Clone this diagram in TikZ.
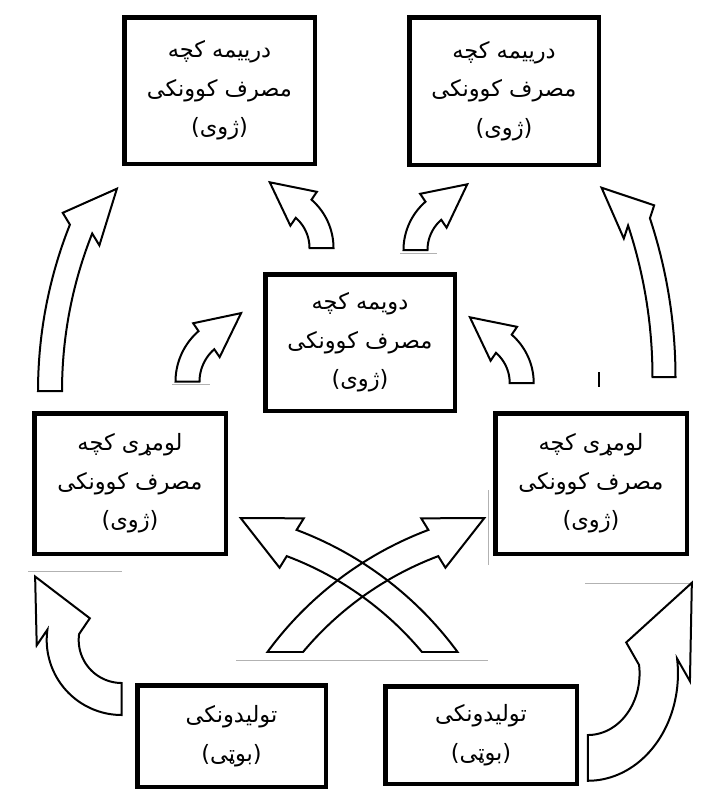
\documentclass[tikz,border=0pt]{standalone}
\usepackage{fontspec}
\newfontfamily\arabicfont[Script=Arabic]{DejaVu Sans}
\TeXXeTstate=1
\tikzset{
  box/.style={draw, line width=4.5pt, fill=white, inner sep=0pt, align=center,
    font=\arabicfont\fontsize{22.5}{38.5}\selectfont},
  arrowline/.style={draw=black, line width=2pt, line join=miter},
  artefact/.style={draw=black!30, line width=1pt}
}
% #1,#2 base centre; #3 start direction; #4 turn; #5 radius; #6 extra head turn;
% #7 shaft half width; #8 head half width; #9 head length
\newcommand\myarrow[9]{%
  \pgfmathsetmacro\arsg{ifthenelse(#4>0,1,-1)}%
  \pgfmathsetmacro\arcx{#1+#5*cos(#3+\arsg*90)}%
  \pgfmathsetmacro\arcy{#2+#5*sin(#3+\arsg*90)}%
  \pgfmathsetmacro\arpa{#3-\arsg*90}%
  \pgfmathsetmacro\arpb{\arpa+#4}%
  \pgfmathsetmacro\arpx{\arcx+#5*cos(\arpb)}%
  \pgfmathsetmacro\arpy{\arcy+#5*sin(\arpb)}%
  \pgfmathsetmacro\arga{#3+#4+#6}%
  \pgfmathsetmacro\arub{\arpb+#6}%
  \draw[arrowline] plot[domain=\arpa:\arpb,samples=40]
      ({\arcx+(#5+#7)*cos(\x)},{\arcy+(#5+#7)*sin(\x)})
    -- ({\arpx+#8*cos(\arub)},{\arpy+#8*sin(\arub)})
    -- ({\arpx+#9*cos(\arga)},{\arpy+#9*sin(\arga)})
    -- ({\arpx-#8*cos(\arub)},{\arpy-#8*sin(\arub)})
    -- plot[domain=\arpb:\arpa,samples=40]
      ({\arcx+(#5-#7)*cos(\x)},{\arcy+(#5-#7)*sin(\x)})
    -- cycle;
}
\begin{document}
\begin{tikzpicture}[x=1pt,y=-1pt]
\fill[white] (0,0) rectangle (720,806);
\useasboundingbox (0,0) rectangle (720,806);

% faint clip-art edges
\draw[artefact] (28,571) -- (122,571);
\draw[artefact] (585,583) -- (690,583);
\draw[artefact] (236,660) -- (488,660);
\draw[artefact] (488,490) -- (488,565);
\draw[artefact] (172,384) -- (210,384);
\draw[artefact] (400,253) -- (437,253);
\draw[black, line width=2pt] (599,372) -- (599,387);

% long side arrows
\myarrow{50}{391}{-90}{21.7}{438}{19.9}{12}{24.5}{54}
\myarrow{664}{377}{-90}{-18.3}{494}{-29.3}{11.5}{22.5}{50.7}
% small arrows
\myarrow{321.5}{248}{-90}{-49}{52}{-3}{12}{21.5}{43}
\myarrow{415.5}{250}{-90}{49}{52}{3}{12}{21.5}{43}
\myarrow{187.5}{381.7}{-90}{49}{55}{3}{12}{21.5}{44}
\myarrow{521.7}{383}{-90}{-49}{52}{-3}{12}{21.5}{43}
% bottom arrows
\myarrow{121.7}{699}{180}{98}{59}{-35}{16}{29.8}{62}
\begin{scope}[shift={(692,583)}, xscale=-1.2, yscale=1.43, shift={(-35,-576.7)}]
\myarrow{121.7}{699}{180}{98}{59}{-35}{16}{29.8}{62}
\end{scope}
% crossing arrows, bases cut level at y=652
\begin{scope}
\clip (0,0) rectangle (720,652);
\myarrow{264.6}{681.1}{-58}{37.4}{340}{-5.5}{14}{27.5}{56.8}
\end{scope}
\draw[arrowline] (267.4,652) -- (303,652);
\begin{scope}
\clip (0,0) rectangle (720,652);
\myarrow{460.4}{681.1}{-122}{-37.4}{340}{5.5}{14}{27.5}{56.8}
\end{scope}
\draw[arrowline] (422,652) -- (457.6,652);

% boxes
\node[box, minimum width=190.5pt, minimum height=146.5pt] (tl) at (219.5,90.5)
  {\beginR درییمه کچه\endR\\\beginR مصرف کوونکی\endR\\\beginR (ژوی)\endR};
\node[box, minimum width=189.5pt, minimum height=147.5pt] (tr) at (504,91)
  {\beginR درییمه کچه\endR\\\beginR مصرف کوونکی\endR\\\beginR (ژوی)\endR};
\node[box, minimum width=189.5pt, minimum height=136.5pt] (mid) at (360,342.5)
  {\beginR دویمه کچه\endR\\\beginR مصرف کوونکی\endR\\\beginR (ژوی)\endR};
\node[box, minimum width=191.5pt, minimum height=140.5pt] (lm) at (130,483.5)
  {\beginR لومړی کچه\endR\\\beginR مصرف کوونکی\endR\\\beginR (ژوی)\endR};
\node[box, minimum width=191.5pt, minimum height=140.5pt] (rm) at (591,483.5)
  {\beginR لومړی کچه\endR\\\beginR مصرف کوونکی\endR\\\beginR (ژوی)\endR};
\node[box, minimum width=188.5pt, minimum height=101.5pt] (bl) at (231.5,736)
  {\beginR تولیدونکی\endR\\\beginR (بوټی)\endR};
\node[box, minimum width=191.5pt, minimum height=97.5pt] (br) at (481,735)
  {\beginR تولیدونکی\endR\\\beginR (بوټی)\endR};
\end{tikzpicture}
\end{document}
